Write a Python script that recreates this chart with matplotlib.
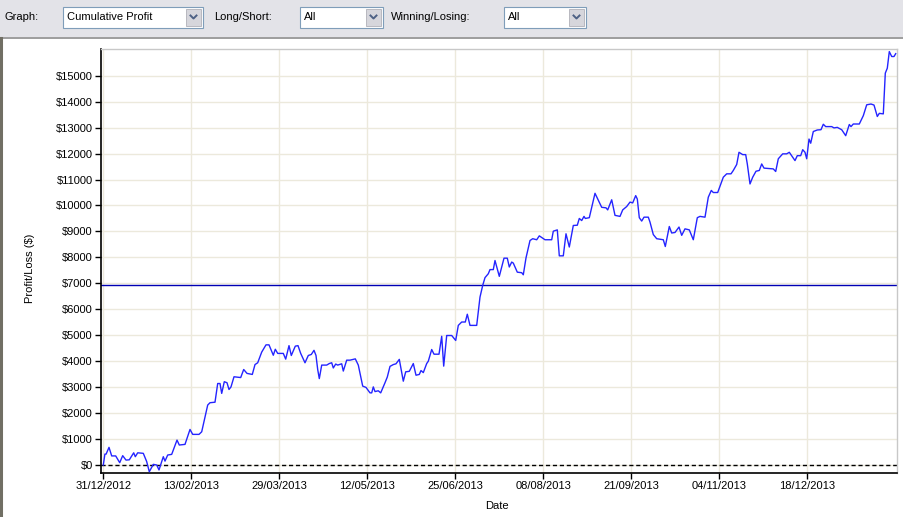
import matplotlib
matplotlib.use("Agg")
import matplotlib.pyplot as plt
import matplotlib.dates as mdates
from matplotlib.patches import Rectangle, Polygon
from matplotlib.lines import Line2D
import datetime as dt
import numpy as np

# ---- data (days since 31/12/2012, cumulative profit $) ----
start_date = dt.datetime(2012, 12, 31)
days = [0, 0.8, 1.4, 2.85, 4.2, 6.2, 8.2, 9.7, 11.35, 13, 15.2, 16, 17.2, 20, 21.7, 23, 25, 26.7,
        27.85, 30, 30.85, 32.2, 34.2, 36.85, 38, 40.85, 43.35, 44.7, 47.85, 49.2, 52.2, 53.35,
        55.85, 57.2, 58.35, 59.2, 60.5, 61.85, 62.85, 63.85, 65.35, 68.7, 70.2, 71.85, 74.5,
        75.85, 77.2, 79.2, 81.35, 82.85, 85, 86, 87.2, 90, 91.2, 92.85, 94, 96, 97.35, 98.7,
        100.85, 102.5, 104, 105.35, 106.35, 107.2, 108, 109.2, 111.7, 113, 114.2, 115, 116.2,
        117.2, 119.2, 120, 121.7, 123.35, 126, 127.5, 129.7, 131.35, 133.35, 134.2, 135,
        135.85, 137.5, 138.7, 140.85, 142, 143.35, 145, 146.35, 148, 150, 151.2, 153, 155,
        156.35, 158, 158.85, 160, 161.7, 162.5, 164.2, 165.35, 167.85, 169.2, 170.2, 171.7,
        174.2, 176.2, 177.5, 179.2, 181, 182, 183.35, 186.7, 188.35, 189.7, 190.85, 192.5,
        193.35, 195, 195.85, 198, 200.35, 202, 203, 204.2, 205, 207, 209.2, 210, 211.35,
        213.35, 214.7, 216.7, 218, 220.85, 224.2, 225, 227, 228, 230, 231.35, 233, 235, 237,
        238, 239.2, 240.35, 241, 243, 245.85, 249.2, 251.35, 252.2, 254.2, 255.85, 258.35,
        259.7, 261.7, 263.35, 264.7, 266.2, 267, 268, 269.2, 270.35, 272.5, 273.35, 275,
        276.7, 280, 281, 283, 284.2, 285.85, 287.85, 289.2, 290.85, 293, 295, 297, 298.35,
        300.85, 302.5, 304, 305, 307.2, 310, 311.7, 313.85, 315, 316.7, 317.85, 319.7, 321.2,
        322, 323.35, 324.7, 326.35, 328, 329.2, 330.35, 335, 336.2, 337.5, 339.7, 341.7, 343,
        345.85, 347, 348.7, 349.7, 350.85, 351.7, 352.85, 353.7, 355, 357, 358.85, 360, 361.2,
        364.2, 365.35, 367, 369.2, 371.2, 373, 373.85, 375, 378, 380, 381.7, 383.85, 385.35,
        387, 388, 390, 391, 392, 393, 394.2, 395.35, 396.2]
profit = [0, 420, 420, 680, 350, 350, 90, 360, 190, 200, 470, 320, 470, 450, 130, -260, 25, 0,
          -190, 320, 150, 385, 410, 960, 770, 795, 1370, 1180, 1180, 1280, 2310, 2400,
          2420, 3140, 3140, 2760, 3210, 3170, 2910, 3010, 3400, 3370, 3680, 3530, 3490,
          3870, 3940, 4350, 4630, 4630, 4230, 4460, 4300, 4300, 4080, 4600, 4220, 4580, 4600, 4300,
          3940, 4220, 4260, 4420, 4220, 3680, 3330, 3850, 3850, 3910, 3940, 3740, 3890,
          3850, 3900, 3620, 4040, 4040, 4090, 3850, 3040, 2990, 2780, 2780, 3010,
          2830, 2860, 2780, 3170, 3390, 3800, 3870, 3900, 4070, 3230, 3590, 3610, 3910,
          3460, 3490, 3640, 3560, 3910, 4000, 4450, 4270, 4270, 4960, 3810, 4990,
          4990, 4800, 5380, 5510, 5510, 5810, 5380, 5380, 6470, 6920, 7220, 7370,
          7530, 7530, 7880, 7270, 7970, 7970, 7630, 7820, 7780, 7430, 7410, 7330, 7980,
          8650, 8720, 8680, 8830, 8680, 8680, 9010, 9060, 8060, 8060, 8910, 8400, 9230, 9240,
          9500, 9420, 9580, 9500, 9530, 10470, 9930, 9910, 9830, 10220, 9620, 9580,
          9830, 9960, 10130, 10100, 10380, 10250, 9530, 9400, 9550, 9550, 9360, 8880,
          8720, 8680, 8420, 9190, 8940, 8960, 9170, 8850, 9100, 9060, 8680, 9530, 9580,
          9550, 10320, 10580, 10500, 10500, 11090, 11220, 11220, 11350, 11580, 12050, 11960, 11960,
          11600, 10830, 11090, 11320, 11350, 11600, 11440, 11410, 11310, 11800, 11990, 11990, 12050,
          11730, 11920, 11920, 12150, 12050, 11800, 12560, 12400, 12850, 12910, 12920, 13130, 13040,
          13040, 12990, 13010, 12920, 12690, 13120, 13040, 13140, 13140, 13460, 13880, 13910, 13870,
          13430, 13550, 13530, 15100, 15290, 15930, 15740, 15740, 15850]
reference_level = 6920
tick_step_days = 44
n_date_ticks = 9
y_ticks = list(range(0, 16000, 1000))
y_tick_labels = ["$%d" % v for v in y_ticks]

plt.rcParams['font.family'] = ['Liberation Sans', 'DejaVu Sans']

W, H = 904, 517
fig = plt.figure(figsize=(W / 100, H / 100), dpi=100)
fig.patch.set_facecolor('white')


def fx(x):
    return x / W


def fy(y):
    return 1 - y / H


# ---- toolbar chrome ----
fig.add_artist(Rectangle((0, fy(37)), 1, 37 / H, transform=fig.transFigure,
                         facecolor='#E3E3E8', edgecolor='none', zorder=0))
fig.add_artist(Line2D([0, 1], [fy(37.5), fy(37.5)], transform=fig.transFigure,
                      color='#8C8C8C', lw=1.2))
fig.add_artist(Line2D([fx(1), fx(1)], [fy(38), 0], transform=fig.transFigure,
                      color='#716F64', lw=2.2))


def combo(x0, x1, text):
    y0, y1 = 7, 28
    fig.add_artist(Rectangle((fx(x0), fy(y1)), (x1 - x0) / W, (y1 - y0) / H,
                             transform=fig.transFigure, facecolor='white',
                             edgecolor='#7F9DB9', lw=0.8))
    bx0 = x1 - 17
    fig.add_artist(Rectangle((fx(bx0), fy(y1 - 2)), 15 / W, (y1 - y0 - 4) / H,
                             transform=fig.transFigure, facecolor='#D6D6DC',
                             edgecolor='#B0B0B8', lw=0.6))
    cx = bx0 + 7.5
    fig.add_artist(Line2D([fx(cx - 3), fx(cx), fx(cx + 3)], [fy(15.5), fy(18.5), fy(15.5)],
                          transform=fig.transFigure, color='#4D6185', lw=1.4))
    fig.text(fx(x0 + 4), fy(17.5), text, fontsize=8, va='center', ha='left')


fig.text(fx(5), fy(17.5), "Graph:", fontsize=8, va='center', ha='left')
combo(63, 203, "Cumulative Profit")
fig.text(fx(214), fy(17.5), "Long/Short:", fontsize=8, va='center', ha='left')
combo(300, 383, "All")
fig.text(fx(391), fy(17.5), "Winning/Losing:", fontsize=8, va='center', ha='left')
combo(504, 586, "All")

# ---- plot ----
left, right, top, bottom = 101, 897, 49, 473
ax = fig.add_axes([fx(left), fy(bottom), (right - left) / W, (bottom - top) / H])
base = mdates.date2num(start_date)
xs = base + np.array(days)
ax.plot(xs, profit, color='#2424FF', lw=1.0, zorder=3)
ax.axhline(0, color='black', lw=1.0, ls=(0, (3, 2)), zorder=2)
ax.axhline(reference_level, color='#0000B4', lw=1.0, zorder=2)

ax.set_xlim(base - 1.15, base + 396.85)
ax.set_ylim(-308, 16030)
date_ticks = [start_date + dt.timedelta(days=tick_step_days * k) for k in range(n_date_ticks)]
ax.set_xticks(mdates.date2num(date_ticks))
ax.set_xticklabels([d.strftime("%d/%m/%Y") for d in date_ticks])
ax.set_yticks(y_ticks)
ax.set_yticklabels(y_tick_labels)
ax.tick_params(axis='both', labelsize=8, length=4, width=1, direction='out', pad=2, colors='black')
ax.grid(True, color='#ECE9DC', lw=1.0, zorder=0)
ax.set_axisbelow(True)
for s in ['top', 'right']:
    ax.spines[s].set_color('#C8C8C8')
    ax.spines[s].set_linewidth(1.0)
for s in ['left', 'bottom']:
    ax.spines[s].set_color('black')
    ax.spines[s].set_linewidth(1.2)

fig.text(fx(30), fy(268), "Profit/Loss ($)", rotation=90, fontsize=8, ha='center', va='center')
fig.text(fx(497), fy(506), "Date", fontsize=8, ha='center', va='center')

fig.savefig("out.png", dpi=100)
